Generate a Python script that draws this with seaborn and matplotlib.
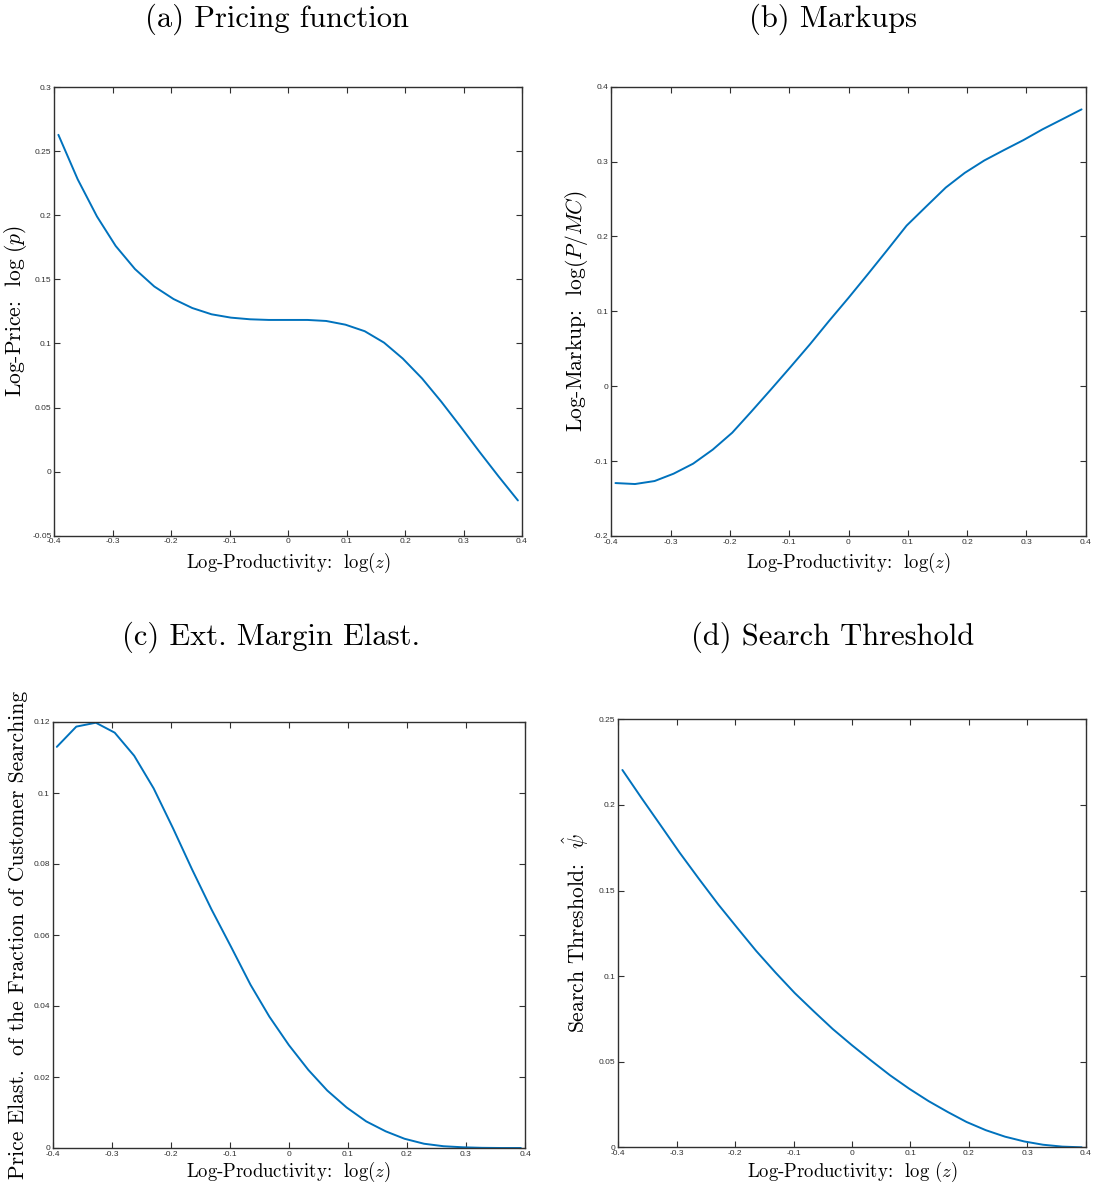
import matplotlib
matplotlib.use("Agg")
import matplotlib.pyplot as plt
import seaborn as sns
import pandas as pd

# ---------------- data ----------------
log_z = [-0.393, -0.360, -0.327, -0.295, -0.262, -0.229, -0.196, -0.164, -0.131,
         -0.098, -0.065, -0.033, 0.000, 0.033, 0.065, 0.098, 0.131, 0.164, 0.196,
         0.229, 0.262, 0.295, 0.327, 0.360, 0.393]

log_price = [0.2627, 0.2280, 0.1990, 0.1760, 0.1580, 0.1444, 0.1346, 0.1276, 0.1227,
             0.1201, 0.1188, 0.1183, 0.1183, 0.1183, 0.1175, 0.1146, 0.1095, 0.1006,
             0.0882, 0.0727, 0.0545, 0.0350, 0.0156, -0.0038, -0.0225]

log_markup = [-0.1293, -0.1306, -0.1266, -0.1168, -0.1034, -0.0847, -0.0620, -0.0340,
              -0.0045, 0.0255, 0.0560, 0.0870, 0.1180, 0.1500, 0.1815, 0.2145, 0.2400,
              0.2653, 0.2849, 0.3015, 0.3153, 0.3287, 0.3430, 0.3563, 0.3697]

ext_margin_elast = [0.1130, 0.1187, 0.1198, 0.1170, 0.1105, 0.1013, 0.0900, 0.0785,
                    0.0672, 0.0567, 0.0460, 0.0370, 0.0290, 0.0220, 0.0162, 0.0114,
                    0.0075, 0.0047, 0.0026, 0.0012, 0.0005, 0.0002, 0.00005, 0.0, 0.0]

search_threshold = [0.2204, 0.2039, 0.1878, 0.1721, 0.1568, 0.1419, 0.1280, 0.1147,
                    0.1021, 0.0901, 0.0793, 0.0691, 0.0596, 0.0506, 0.0421, 0.0342,
                    0.0270, 0.0206, 0.0148, 0.0100, 0.0062, 0.0034, 0.0015, 0.0004, 0.0]

x_ticks = [-0.4, -0.3, -0.2, -0.1, 0.0, 0.1, 0.2, 0.3, 0.4]
x_ticklabels = ["-0.4", "-0.3", "-0.2", "-0.1", "0", "0.1", "0.2", "0.3", "0.4"]

yticks_a = [-0.05, 0.0, 0.05, 0.1, 0.15, 0.2, 0.25, 0.3]
yticklabels_a = ["-0.05", "0", "0.05", "0.1", "0.15", "0.2", "0.25", "0.3"]
yticks_b = [-0.2, -0.1, 0.0, 0.1, 0.2, 0.3, 0.4]
yticklabels_b = ["-0.2", "-0.1", "0", "0.1", "0.2", "0.3", "0.4"]
yticks_c = [0.0, 0.02, 0.04, 0.06, 0.08, 0.1, 0.12]
yticklabels_c = ["0", "0.02", "0.04", "0.06", "0.08", "0.1", "0.12"]
yticks_d = [0.0, 0.05, 0.1, 0.15, 0.2, 0.25]
yticklabels_d = ["0", "0.05", "0.1", "0.15", "0.2", "0.25"]

titles = ["(a) Pricing function", "(b) Markups", "(c) Ext. Margin Elast.",
          "(d) Search Threshold"]
ylabels = [r"Log-Price:  $\log\,(p)$", r"Log-Markup:  $\log(P/MC)$",
           "Price Elast.  of the Fraction of Customer Searching",
           r"Search Threshold:  $\hat{\psi}$"]
xlabels = [r"Log-Productivity:  $\log(z)$", r"Log-Productivity:  $\log(z)$",
           r"Log-Productivity:  $\log(z)$", r"Log-Productivity:  $\log\,(z)$"]

# ---------------- style ----------------
sns.set_theme(style="white")
plt.rcParams["font.family"] = ["cmr10", "DejaVu Serif"]
plt.rcParams["mathtext.fontset"] = "cm"
plt.rcParams["axes.formatter.use_mathtext"] = True

W, H = 1095, 1188
fig = plt.figure(figsize=(W / 100, H / 100), dpi=100)

# axes boxes in pixels: left, top, right, bottom
boxes = [(54.3, 87.0, 522.0, 535.7),
         (611.3, 86.7, 1085.7, 536.0),
         (52.7, 722.0, 525.0, 1148.0),
         (618.3, 719.3, 1085.7, 1147.3)]

series = [log_price, log_markup, ext_margin_elast, search_threshold]
ylims = [(-0.05, 0.3), (-0.2, 0.4), (0.0, 0.12), (0.0, 0.25)]
yt = [(yticks_a, yticklabels_a), (yticks_b, yticklabels_b),
      (yticks_c, yticklabels_c), (yticks_d, yticklabels_d)]
ylabel_right_px = [29.0, 590.0, 28.0, 591.0]
xlabel_top_px = [551.0, 551.0, 1160.0, 1160.0]
title_pos = [(276.7, 26.7), (833.0, 26.7), (271.5, 645.0), (832.5, 645.0)]

line_color = "#0072BD"
axis_color = "#303030"

for i in range(4):
    l, t, r, b = boxes[i]
    ax = fig.add_axes([l / W, 1 - b / H, (r - l) / W, (b - t) / H])
    df = pd.DataFrame({"z": log_z, "v": series[i]})
    sns.lineplot(data=df, x="z", y="v", ax=ax, color=line_color, linewidth=1.4,
                 estimator=None)
    ax.set_xlim(-0.4, 0.4)
    ax.set_ylim(*ylims[i])
    ax.set_xticks(x_ticks)
    ax.set_xticklabels(x_ticklabels)
    ax.set_yticks(yt[i][0])
    ax.set_yticklabels(yt[i][1])
    ax.tick_params(axis="both", direction="in", length=4.5, width=0.8,
                   top=True, right=True, bottom=True, left=True,
                   labelsize=6, colors=axis_color, pad=2,
                   labelfontfamily="Liberation Sans")
    for sp in ax.spines.values():
        sp.set_visible(True)
        sp.set_color(axis_color)
        sp.set_linewidth(1.0)
    ax.set_xlabel(xlabels[i], fontsize=13.5, color="black")
    ax.set_ylabel(ylabels[i], fontsize=15.5, color="black")
    ax.xaxis.set_label_coords(0.5, -(xlabel_top_px[i] - b) / (b - t))
    ax.yaxis.set_label_coords((ylabel_right_px[i] - l) / (r - l), 0.5)
    tx, ty = title_pos[i]
    fig.text(tx / W, 1 - ty / H, titles[i], ha="center", va="baseline",
             fontsize=22, color="black")

fig.savefig("out.png", dpi=100, facecolor="white")
